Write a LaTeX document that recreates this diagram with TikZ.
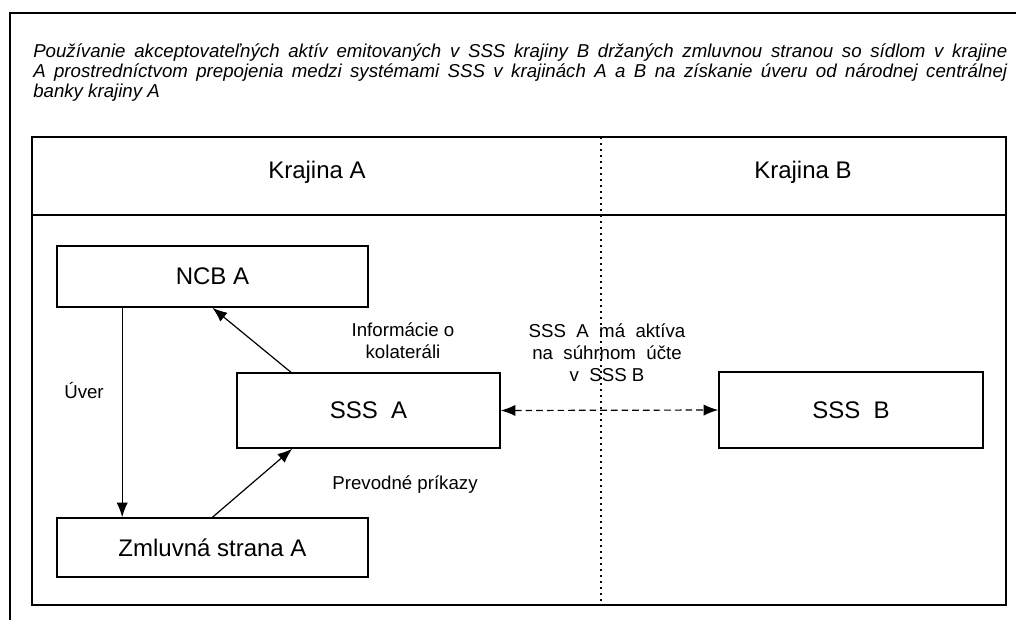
\documentclass[tikz,border=0pt]{standalone}
\usepackage{fontspec}
\setmainfont{Liberation Sans}
\usetikzlibrary{arrows.meta}

\begin{document}
\begin{tikzpicture}[x=0.75pt,y=-0.75pt,
	box/.style={rectangle,draw,line width=1.2pt,font=\fontsize{18}{21}\selectfont},
	lbl/.style={align=center,inner sep=0pt,font=\fontsize{14}{16.5}\selectfont},
	arr/.style={-{Latex[length=11pt,width=8.5pt]},line width=0.9pt}]
\useasboundingbox (0,0) rectangle (1016,619);
\clip (0,0) rectangle (1016,619);
\fill[white] (0,0) rectangle (1016,619);
% frames
\draw[line width=2pt] (1030,13) -| (10,630);
\draw[line width=1.2pt] (32,137) rectangle (1006,605);
\draw[line width=1.2pt] (32,215) -- (1006,215);
\draw[line width=1pt,dash pattern=on 1.2pt off 3.3pt] (601,137) -- (601,605);
% title
\node[anchor=base west,inner sep=0pt,text width=730.5pt,align=justify,font=\itshape\fontsize{14}{15}\selectfont] (title) at (33,57) {Používanie akceptovateľných aktív emitovaných v SSS krajiny B držaných zmluvnou stranou so sídlom v krajine\linebreak A prostredníctvom prepojenia medzi systémami SSS v krajinách A a B na získanie úveru od národnej centrálnej\linebreak banky krajiny A};
\node[font=\fontsize{18}{21}\selectfont] (krajA) at (317,172) {Krajina A};
\node[font=\fontsize{18}{21}\selectfont] (krajB) at (803,172) {Krajina B};
% boxes
\node[box,minimum width=233.25pt,minimum height=45.75pt] (ncb) at (212.5,276.5) {NCB A};
\node[box,minimum width=197.25pt,minimum height=56.25pt] (sssa) at (368.5,410.5) {SSS\ \ A};
\node[box,minimum width=233.25pt,minimum height=44.25pt] (zml) at (212.5,547.5) {Zmluvná strana A};
\node[box,minimum width=198pt,minimum height=57pt] (sssb) at (851,410) {SSS\ \ B};
% connectors
\draw[arr] ([xshift=49.5pt]ncb.south west) -- ([xshift=49.5pt]zml.north west);
\draw[arr] ([xshift=41pt]sssa.north west) -- (ncb.south);
\draw[arr] (zml.north) -- ([xshift=42pt]sssa.south west);
\draw[arr,{Latex[length=11pt,width=8.5pt]}-{Latex[length=11pt,width=8.5pt]},dash pattern=on 5pt off 3pt] (sssa.east) -- (sssb.west);
% labels
\node[lbl] (uver) at (84,390) {Úver};
\node[lbl] (info) at (403,341) {Informácie o\\kolater\'ali};
\node[lbl] (prevod) at (405,485) {Prevodné príkazy};
\node[lbl] (ucet) at (607,353) {SSS\ \ A\ \ má\ \ aktíva\\na\ \ súhrnom\ \ účte\\v\ \ SSS B};
\end{tikzpicture}
\end{document}
